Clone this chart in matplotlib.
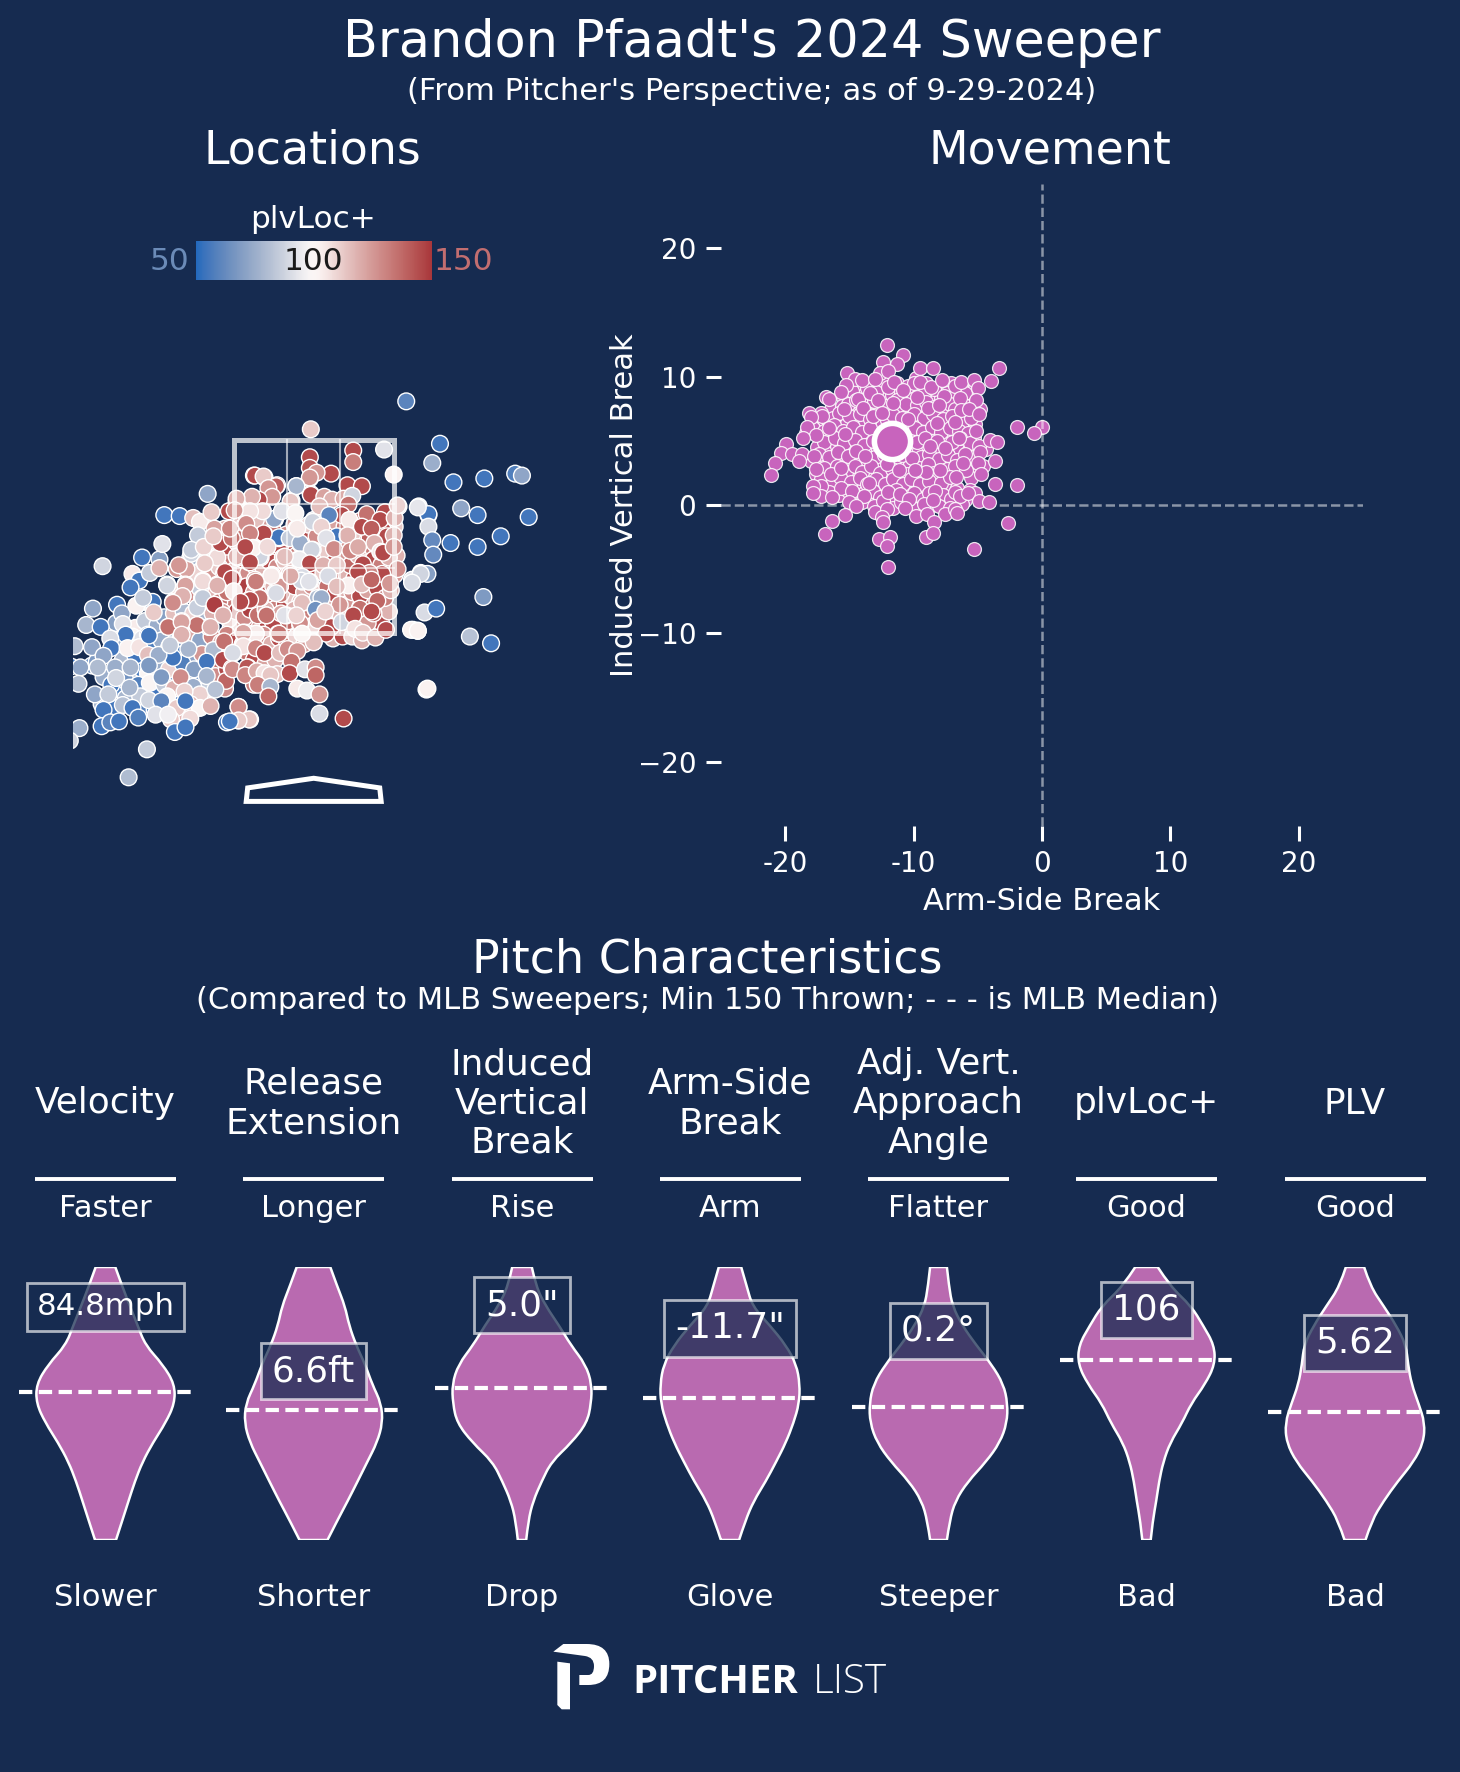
import numpy as np
import matplotlib
matplotlib.use('Agg')
import matplotlib.pyplot as plt
from matplotlib.cm import ScalarMappable
from matplotlib.colors import Normalize, to_rgba
from matplotlib.path import Path
from matplotlib.patches import PathPatch, Polygon, Rectangle
import seaborn as sns

# Locations, plate_x / plate_z in feet, plvLoc+ per pitch. Drawn in this order.
under_x = [-.92,-.84,-.76,-.68,-.62,-.54,-.48,-.40,-.30,-.24,
           -.94,-.86,-.78,-.72,-.64,-.56,-.50,-.44,-.36,-.30,
           -.92,-.84,-.76,-.68,-.60,-.52,-.46,-.38,-.30,-.24,
           -.86,-.76,-.66,-.56,-.48,-.38,-.30,-.22,-.14,-.06,
           .00,.08,.14,.20,.28,.36,.44,.52,.58,.66,
           -.14,-.06,.02,.10,.18,.26,.34,.42,.50,.60,
           -.14,-.04,.04,.12,.20,.30,.38,.48,.56,.70,
           .20,.30,.40,.50,.60,.70,.78,.84,.86,.84]
under_y = [2.58,2.50,2.62,2.56,2.30,2.34,2.62,2.32,2.42,2.34,
           2.12,2.06,2.08,2.02,2.04,2.06,2.02,2.08,2.06,2.00,
           1.84,1.80,1.84,1.86,1.80,1.84,1.80,1.84,1.80,1.88,
           1.56,1.58,1.60,1.56,1.60,1.54,1.54,1.56,1.50,1.44,
           2.42,2.40,2.44,2.52,2.44,2.42,2.44,2.38,2.34,2.30,
           2.12,2.12,2.14,2.12,2.14,2.14,2.10,2.06,2.12,2.14,
           1.82,1.82,1.78,1.80,1.78,1.84,1.78,1.76,1.78,1.76,
           1.44,1.46,1.46,1.42,1.50,1.60,1.72,2.10,2.30,2.60]
under_plus = [118,132,145,118,145,135,125,145,118,145,
              128,145,112,145,128,145,135,118,145,128,
              118,132,145,145,128,145,118,132,145,112,
              145,118,140,125,145,118,145,128,118,132,
              118,145,128,112,145,125,145,118,132,145,
              132,118,145,112,128,145,118,145,128,145,
              118,145,112,132,118,145,125,145,132,145,
              118,145,110,118,125,145,118,125,118,112]

blue_x = [-2.30,-2.18,-2.02,-1.90,-1.78,-1.66,-1.52,-1.44,-1.32,-1.20,
          -2.00,-1.88,-1.74,-1.62,-1.46,-1.36,-1.24,-1.10,-1.00,-.92,
          -2.20,-2.08,-1.78,-1.56,-1.40,-1.72,-1.56,-1.44,-1.26,-1.08,
          -1.78,-1.50,-1.40,-1.28,-1.12,-1.40,-1.22,-1.08,-.98,-1.10]
blue_y = [1.16,1.04,1.06,1.06,1.12,1.02,1.02,1.06,1.10,1.02,
          .90,.88,.90,.88,.84,.82,.84,.92,.98,.92,
          .76,.72,.72,.74,.64,1.34,1.28,1.32,1.28,1.30,
          1.50,1.50,1.58,1.56,1.52,1.80,1.86,1.90,1.82,1.72]
blue_plus = [60,75,55,82,55,60,72,55,85,60,
             58,70,62,55,75,60,72,85,110,128,
             78,55,60,72,118,55,62,58,72,85,
             75,70,85,72,120,78,130,118,135,112]

core_x = [-.95,-.88,-.80,-.72,-.65,-.58,-.50,-.42,-.35,-.28,
          -.90,-.82,-.74,-.68,-.60,-.52,-.46,-.38,-.32,-.26,
          -.98,-.90,-.84,-.78,-.70,-.62,-.55,-.48,-.42,-.34,
          -.95,-.88,-.80,-.72,-.66,-.58,-.50,-.42,-.34,-.26,
          -.90,-.80,-.70,-.62,-.52,-.44,-.36,-.28,-.18,-.10,
          -.20,-.12,-.05,.03,.10,.16,.24,.32,.40,.48,
          -.18,-.10,-.02,.06,.14,.22,.30,.38,.46,.54,
          -.20,-.10,-.02,.06,.14,.22,.30,.40,.48,.56,
          -.20,-.08,.00,.10,.18,.28,.36,.46,.56,.62,
          .58,.66,.72,.78,.62,.70,.78,.66,.74,.80]
core_y = [2.45,2.35,2.44,2.50,2.42,2.50,2.44,2.56,2.40,2.52,
          2.22,2.15,2.26,2.12,2.18,2.14,2.24,2.18,2.28,2.18,
          2.00,1.92,2.00,1.93,1.98,1.92,1.98,1.90,1.98,1.90,
          1.72,1.64,1.72,1.66,1.74,1.68,1.74,1.60,1.70,1.62,
          1.48,1.42,1.50,1.40,1.48,1.38,1.44,1.36,1.46,1.38,
          2.62,2.54,2.62,2.50,2.68,2.58,2.64,2.60,2.52,2.66,
          2.30,2.20,2.30,2.24,2.34,2.24,2.30,2.20,2.30,2.22,
          1.98,1.92,1.98,1.90,1.98,1.90,1.96,1.92,1.88,1.94,
          1.74,1.66,1.58,1.62,1.56,1.68,1.60,1.64,1.60,1.70,
          2.48,2.40,2.56,2.44,2.26,2.20,2.28,1.96,1.86,1.94]
core_plus = [125,145,118,132,145,122,112,135,145,128,
             132,118,145,128,140,118,145,128,112,145,
             118,135,145,128,148,122,140,145,118,132,
             125,108,145,128,148,135,118,145,122,138,
             130,145,122,145,128,118,145,132,110,125,
             122,145,112,128,118,145,122,132,112,145,
             132,145,118,128,112,145,125,138,118,145,
             145,118,128,110,135,145,118,128,145,122,
             118,132,108,125,145,118,135,145,125,138,
             140,125,145,118,145,132,118,145,132,118]

low_x = [-2.05,-1.85,-1.75,-1.62,-1.55,-1.45,-1.35,-1.25,-1.15,-1.05,
         -2.00,-1.88,-1.78,-1.68,-1.58,-1.42,-1.30,-1.18,-1.06,-.96,
         -2.25,-1.98,-1.85,-1.72,-1.62,-1.50,-1.36,-1.24,-1.16,-1.02,
         -2.10,-1.95,-1.82,-1.70,-1.55,-1.45,-1.25,-1.18,-1.02,-.90,
         -1.95,-1.80,-1.65,-1.52,-1.42,-1.28,-1.18,-1.48,-1.68,-1.40,
         -1.25,-1.18,-1.08,-.98,-1.28,-1.12,-.70,-.62,-.50,-.40]
low_y = [1.60,1.55,1.62,1.58,1.66,1.70,1.72,1.70,1.62,1.70,
         1.42,1.46,1.44,1.38,1.42,1.44,1.46,1.42,1.46,1.40,
         1.20,1.22,1.26,1.08,1.16,1.12,1.18,1.12,1.28,1.18,
         .96,1.00,.96,.98,.96,.92,.94,.86,1.05,1.12,
         .82,.84,.70,.84,.72,.76,.72,.60,1.78,1.92,
         2.12,1.96,2.10,2.18,2.28,2.28,1.30,1.22,1.18,1.22]
low_plus = [70,104,85,75,70,115,80,110,78,118,
            78,100,92,58,75,65,120,72,130,118,
            68,80,55,100,75,110,58,70,125,135,
            55,65,58,100,85,118,75,110,128,145,
            78,85,55,100,112,118,100,112,100,108,
            110,85,125,112,78,85,135,145,122,118]

left_x = [-2.19,-1.78,-1.60,-1.88,-1.81,-1.90,-1.70,-1.60,-1.42,-1.32,
          -1.27,-1.13,-1.07,-1.52,-1.33,-1.15,-1.00,-.93,-.84,-.67,
          -.61,-.79,-2.29,-2.36,-2.21,-2.04,-1.99,-1.98,-1.84,-1.67,
          -1.66,-1.77,-1.46,-1.36,-1.16,-1.03,-.94,-1.21,-1.51,-1.37,
          -1.21,-1.09,-1.38,-1.72,-1.95,-2.11,-2.48,-2.30,-2.10,-2.18,
          -1.93,-1.81,-1.72,-1.50,-1.30,-1.04,-.93,-.74,-.73,-1.46,
          -1.61,-1.71,-1.11,-.94,-.83,-2.52,-2.42,-2.24,-2.06,-1.90,
          -1.58,-1.38,-1.11,-.91,-.85,-.68,-.62,-2.44,-2.05,-2.27,
          -2.13,-1.91,-1.02,-1.71,-1.34,-1.33,-1.58,-1.98,-1.88,-2.18,
          -1.07,-.78,-1.82,-1.64,-1.51,-1.28,-2.43,-2.20,-2.11,-2.02,
          -1.44,-1.33,-.90,-.78,-.66,-1.73,-2.53,-1.92]
left_y = [2.19,2.28,2.26,2.11,2.04,1.97,2.12,2.17,2.16,2.16,
          2.32,2.22,2.29,2.00,2.00,2.04,2.00,2.12,2.06,2.23,
          2.03,2.29,1.75,1.58,1.56,1.79,1.70,1.59,1.78,1.82,
          1.71,1.86,1.82,1.88,1.86,1.79,1.68,1.76,1.56,1.62,
          1.58,1.56,1.48,1.48,1.48,1.44,1.36,1.35,1.34,1.26,
          1.34,1.35,1.27,1.35,1.33,1.32,1.41,1.37,1.50,1.24,
          1.27,1.16,1.20,1.22,1.29,1.15,1.14,1.14,1.14,1.14,
          1.04,1.04,1.05,1.00,1.13,1.14,.96,.97,1.03,.86,
          .86,.93,.91,.80,.89,.79,.79,.75,.72,.70,
          .74,.73,.62,.65,.65,.61,.51,.53,.57,.58,
          .47,.52,.57,.59,.60,.29,.38,.00]
left_plus = [88,55,70,104,55,55,85,118,125,122,
             88,110,106,85,120,104,112,145,148,148,
             130,128,72,78,55,55,72,92,102,55,
             112,85,122,118,88,145,118,86,135,122,
             135,118,120,55,55,90,80,72,55,72,
             102,106,115,85,78,80,135,104,105,55,
             75,68,55,145,85,55,72,80,75,78,
             68,128,78,138,130,142,132,80,88,72,
             85,78,82,88,110,55,60,82,55,55,
             118,128,58,92,96,108,75,55,60,55,
             55,55,55,112,113,85,88,80]

mid_x = [-1.10,-1.55,-1.39,-1.25,-1.18,-1.06,-.88,-.80,-.62,-.51,
         -.38,-.44,-.64,-.57,-.18,-.04,-.03,-.23,-.40,-.53,
         -.66,-.71,-.60,-1.03,-1.20,-.51,-.36,-.25,-.14,-.01,
         -.18,.00,-1.57,-1.27,-1.14,-1.00,-1.13,-1.40,-.55,-.63,
         -.49,-.16,-.30,-.04,-.92,-.79,-.97,-.85,-.87,-1.04,
         -.44,-.25,-.12,-.04,-.85,-.60,-.35,-1.15,-1.00,-1.33,
         -1.52,-.83,-1.36,-1.46,-1.15,-.55,-.67,-.76,-.40,-.12,
         .04,-1.03,-.94,-.49,-.28,.02,-1.21,-1.51,-1.37,-1.37,
         -1.07,-.14,-.37,-.60,-.73,.00,-1.49,-1.71]
mid_y = [2.94,2.72,2.71,2.69,2.65,2.75,2.76,2.86,3.13,3.11,
         3.03,2.92,2.89,2.87,3.02,3.10,2.94,2.87,2.68,2.77,
         2.77,2.63,2.67,2.58,2.51,2.52,2.48,2.48,2.42,2.36,
         2.58,2.67,2.42,2.36,2.39,2.28,2.22,2.20,2.28,2.39,
         2.38,2.26,2.24,2.22,2.13,2.28,2.43,2.48,2.58,2.50,
         2.09,2.09,2.03,2.03,2.06,2.02,1.98,2.03,1.99,1.99,
         1.99,1.93,1.88,1.81,1.86,1.86,1.84,1.81,1.92,1.81,
         1.86,1.79,1.68,1.68,1.68,1.74,1.58,1.56,1.61,1.48,
         1.56,1.58,1.49,1.49,1.39,1.41,1.37,1.47]
mid_plus = [72,55,55,115,104,112,145,120,145,112,
            145,128,118,145,78,120,145,112,72,106,
            102,128,115,122,85,148,55,85,75,88,
            102,90,92,85,110,108,112,125,88,104,
            108,95,115,145,145,130,145,135,130,112,
            106,118,92,90,145,135,128,108,118,122,
            88,104,118,128,85,140,145,145,85,115,
            80,148,118,132,92,68,135,135,122,118,
            118,132,145,100,104,118,85,55]

top_x = [.96,-.03,.73,.41,.41,-.04,.83,-.61,-.52,.18,
         -.04,.03,-.04,-.18,.35,.50,-.39,-.47,-.43,-.03,
         .11,.19,.06,.31,.40,.36,-.24,-.57,-.64,-.80,
         .88,1.09,1.19,.74,.55,.69,.84,.29,.16,.37,
         -.01,.08,-.41,-.53,-.66,-.33,-.19,-.70,-.82,.50,
         .60,.24,.13,.35,-.36,-.25,-.14,-.02,.21,-.52,
         -.66,-.17,.76,.83,.63,.38,.69,.72,.83,.46,
         -.56,-.63,-.48,-.80,-.71,-.15,-.04,-.30,.10,.51,
         .87,-.66,.24,-.25,-.43,-.61,.15,-.12,.71,.58,
         .46,1.02,1.11]
top_y = [3.90,3.61,3.40,3.39,3.27,3.32,3.14,3.13,3.12,3.15,
         3.21,3.16,3.11,3.02,3.03,3.02,3.02,3.00,2.91,2.93,
         2.91,2.88,2.81,2.89,2.92,2.83,2.86,2.88,2.91,2.89,
         2.81,2.81,2.72,2.75,2.73,2.67,2.69,2.72,2.72,2.67,
         2.65,2.60,2.68,2.76,2.76,2.76,2.74,2.63,2.77,2.60,
         2.58,2.50,2.48,2.51,2.49,2.48,2.43,2.36,2.37,2.53,
         2.53,2.58,2.50,2.51,2.43,2.35,2.34,2.33,2.39,2.39,
         2.29,2.38,2.39,2.29,2.39,2.26,2.22,2.29,2.20,2.21,
         2.16,2.23,2.20,2.11,2.10,2.05,2.09,2.08,2.11,2.12,
         2.13,2.05,2.12]
top_plus = [60,112,92,145,132,145,102,145,112,145,
            142,125,125,78,145,145,140,125,125,145,
            122,118,115,120,88,135,113,145,118,118,
            112,93,55,145,135,145,118,145,60,104,
            88,110,72,108,106,92,100,128,125,145,
            140,55,92,118,55,85,75,88,128,145,
            130,104,145,118,118,130,104,145,125,120,
            88,102,108,118,145,95,145,115,118,145,
            128,145,112,118,106,122,90,90,145,130,
            145,92,90]

bottom_x = [-.13,-.05,-.35,-.44,-.60,-.24,.36,.24,.50,.60,
            .79,-.39,-.56,-.66,-.76,.08,-.12,.02,.27,.48,
            .66,.60,-.49,-.30,-.14,.04,-.18,.12,.29,.41,
            .13,.43,.51,.64,.75,.00,-.12,-.60,-.73,-.36,
            1.03,1.08,-.73,-.60,-.51,-.35,-.27,-.17,-.84,-.23,
            -.84,-.69,-.71,-.59,-.51,-.38,-.45,-.25,-.09,.02,
            .02,-.58,-.45,-.47,-.17,-.07,.06,.06,.31,1.17,
            -.78,-.67,-.78,-.87]
bottom_y = [2.04,2.03,1.98,2.09,2.03,2.09,1.99,1.98,2.00,2.05,
            2.01,1.91,1.86,1.84,1.82,1.86,1.81,1.74,1.79,1.75,
            1.83,1.72,1.68,1.68,1.60,1.63,1.68,1.72,1.61,1.68,
            1.49,1.54,1.50,1.45,1.53,1.40,1.49,1.49,1.50,1.49,
            1.53,1.52,1.36,1.34,1.29,1.29,1.33,1.31,1.29,1.20,
            1.12,1.14,1.06,1.10,1.08,1.07,1.06,1.08,1.12,1.14,
            1.06,.96,.94,.84,.92,.90,.86,.66,.61,.91,
            .73,.60,.59,.58]
bottom_plus = [88,92,125,104,132,120,102,115,115,138,
               125,90,135,145,145,75,115,65,125,135,
               138,145,135,92,128,122,110,110,88,145,
               145,106,112,118,145,115,100,104,122,135,
               92,102,106,130,145,115,128,125,90,135,
               128,142,130,120,106,115,113,145,92,128,
               138,132,78,138,104,95,125,90,145,102,
               128,113,112,55]

right_x = [1.31,1.23,1.45,1.77,2.09,2.16,1.53,1.70,2.23,1.19,
           1.08,1.19,1.23,1.24,1.42,1.70,1.94,1.18,1.11,1.02,
           1.76,1.15,1.27,1.01,1.08,1.62,1.84,1.18,.87]
right_y = [3.46,3.26,3.06,3.10,3.15,3.13,2.79,2.72,2.70,2.73,
           2.80,2.60,2.46,2.31,2.43,2.39,2.50,2.11,2.11,2.02,
           1.87,1.71,1.75,1.53,1.52,1.46,1.39,.92,2.82]
right_plus = [55,75,55,55,58,72,72,55,55,55,
              93,90,62,62,55,55,55,70,88,90,
              68,90,55,102,102,82,55,102,110]

# Home plate and strike zone outline, feet
plate_x = [-.70, .70, .685, 0, -.685]
plate_y = [-.25, -.25, -.11, -.01, -.11]
zone_x = [-.83, .83]
zone_y = [1.5, 3.5]
zone_inner_x = [-.277, .277]
zone_inner_y = [2.167, 2.833]

# Movement, inches
cluster_x = [-13.9,-13.2,-12.5,-11.3,-9.8,-9.0,-7.9,-7.1,-6.2,-5.4,
             -15.5,-14.9,-14.0,-12.6,-11.7,-11.0,-10.2,-8.8,-7.9,-7.0,-6.0,-5.4,
             -16.4,-15.6,-14.8,-14.1,-13.3,-12.7,-11.8,-11.0,-10.3,-9.5,-8.8,-7.4,-6.6,-5.9,-5.2,
             -17.7,-17.0,-16.6,-15.9,-15.2,-14.5,-13.8,-12.8,-12.1,-11.3,-10.6,-9.7,-9.0,-8.3,-7.5,-6.9,-5.9,-5.2,
             -18.4,-17.4,-16.7,-16.0,-15.2,-14.4,-13.6,-12.9,-10.1,-9.4,-8.8,-8.1,-7.5,-6.9,-6.1,-5.3,
             -17.5,-16.7,-16.0,-15.0,-14.3,-13.5,-12.8,-10.3,-9.6,-8.9,-8.3,-7.1,-6.4,-5.7,-5.1,-4.4,
             -18.0,-16.9,-16.2,-15.5,-14.9,-14.2,-13.6,-12.8,-11.9,-11.1,-10.3,-9.9,-8.5,-7.7,-7.0,-6.2,-5.5,-4.6,
             -17.6,-16.6,-15.8,-14.6,-13.0,-12.1,-11.2,-10.0,-9.1,-7.9,-6.9,-5.5,
             -17.5,-16.2,-15.4,-14.6,-13.8,-12.9,-12.0,-11.2,-10.4,-9.7,-9.0,-7.4,-6.3,-5.6,
             -13.6,-12.0,-10.6,-9.6,-8.6,-7.7,-6.9]
cluster_y = [9.3,9.5,9.6,9.5,9.9,9.5,9.3,9.5,9.1,8.9,
             8.4,8.6,8.5,8.5,8.6,8.4,8.5,8.5,8.3,8.3,8.1,7.9,
             7.5,7.7,7.5,7.7,7.4,7.7,7.4,7.5,7.5,7.4,7.3,7.3,7.1,7.2,7.2,
             6.6,6.6,6.4,6.5,6.4,6.5,6.4,6.5,6.6,6.6,6.4,6.5,6.4,6.6,6.3,6.3,6.2,6.3,
             5.6,5.4,5.5,5.6,5.4,5.5,5.4,5.5,5.5,5.4,5.6,5.5,5.3,5.5,5.5,5.3,
             4.5,4.4,4.6,4.4,4.5,4.3,4.4,4.4,4.3,4.6,4.4,4.4,4.4,4.3,4.2,4.4,
             3.4,3.4,3.4,3.3,3.4,3.4,3.3,3.2,3.4,3.3,3.2,3.5,3.5,3.3,3.4,3.0,3.0,3.0,
             2.4,2.4,2.5,2.4,2.5,2.3,2.2,2.3,2.3,2.3,2.5,2.1,
             1.2,1.4,1.5,1.3,1.0,1.4,1.3,.7,1.3,1.2,1.3,1.4,.9,1.2,
             .4,.3,.0,-.1,.0,.3,-.1]
move_x = [-14.8,-13.6,-12.9,-12.0,-11.0,-10.4,-9.1,-8.4,-7.4,-6.9,-6.0,
          -15.1,-14.5,-13.8,-13.1,-12.2,-11.3,-10.6,-9.7,-9.0,-8.4,-7.2,-6.8,-5.9,-4.8,
          -17.2,-16.3,-15.8,-15.0,-14.2,-13.4,-11.6,-10.9,-10.0,-9.2,-8.5,-7.7,-7.0,-6.2,-5.5,
          -17.8,-17.0,-16.2,-15.5,-14.7,-14.0,-13.4,-9.9,-9.3,-8.6,-7.9,-7.2,-6.5,-5.8,
          -17.0,-16.1,-15.4,-14.6,-13.9,-13.2,-9.7,-9.1,-8.2,-7.0,-6.4,-5.6,-4.9,
          -17.4,-16.6,-15.9,-15.1,-14.5,-13.0,-12.3,-11.5,-10.9,-9.4,-8.8,-8.0,-7.3,-6.6,-5.3,
          -17.0,-16.0,-15.3,-14.6,-14.0,-13.3,-12.6,-11.7,-10.5,-9.6,-8.9,-8.4,-7.4,-6.8,-5.9,
          -17.2,-16.3,-15.7,-14.9,-14.2,-13.6,-12.9,-12.2,-11.6,-10.8,-10.2,-9.5,-8.8,-7.9,-7.2,-6.6,
          -16.6,-15.8,-15.1,-14.2,-13.2,-12.6,-11.4,-10.7,-10.0,-9.3,-8.8,-7.7,-7.1,-6.8,-6.0,-5.2,
          -14.0,-13.1,-12.4,-11.6,-11.0,-9.9,-9.2,-8.0,-7.2,-6.2,
          -12.11,-10.84,-12.37,-11.28,-9.49,-8.48,-3.35,-3.99,-15.15,-14.53,
          -14.03,-12.58,-13.02,-11.98,-11.52,-9.99,-9.52,-8.61,-7.78,-6.74,
          -6.33,-5.29,-4.98,-15.23,-15.67,-16.86,-16.58,-14.32,-13.41,-12.76,
          -11.60,-10.82,-9.73,-7.65,-6.41,-5.16,-8.85,-8.04,-6.28,-5.68,
          -4.90,-18.13,-17.10,-15.43,-13.93,-13.20,-12.50,-10.43,-8.17,-6.80,
          -18.00,-18.29,-16.58,-15.38,-17.61,-18.60,-5.16,-6.46,-4.07,-3.50,
          -1.97,.03,-.65,-19.90,-20.29,-19.46,-18.68,-18.91,-20.80,-21.14,
          -17.77,-17.64,-16.47,-15.67,-13.77,-8.69,-7.57,-5.97,-4.85,-3.68,
          -4.98,-6.15,-4.72,-6.72,-7.96,-9.05,-10.12,-12.11,-11.13,-9.91,
          -3.63,-1.97,-13.49,-15.67,-17.22,-17.82,-17.22,-17.87,-16.32,-14.76,
          -13.88,-11.98,-11.08,-10.35,-8.30,-8.48,-6.41,-5.76,-4.93,-4.12,
          -15.05,-14.50,-13.02,-12.11,-10.64,-9.78,-8.92,-7.52,-6.74,-6.59,
          -15.36,-16.32,-16.91,-12.45,-12.37,-8.40,-9.00,-8.48,-12.71,-11.87,
          -12.11,-2.62,-5.27,-11.99]
move_y = [8.9,9.1,8.8,9.2,8.8,9.3,8.8,9.0,8.7,8.4,8.7,
          7.9,8.2,7.8,8.1,7.7,8.2,7.9,7.8,8.0,7.6,7.9,7.5,7.7,7.5,
          7.2,6.8,7.2,6.9,7.1,6.7,7.0,6.8,7.1,6.8,7.1,6.7,6.9,6.5,6.8,
          6.0,5.8,6.2,5.8,6.1,5.7,6.0,6.0,5.7,6.1,5.7,6.0,5.8,5.6,
          4.9,5.2,4.8,5.1,4.7,5.0,4.9,5.2,5.0,4.9,5.2,4.8,4.6,
          4.0,3.7,4.1,3.8,4.2,3.7,3.9,3.5,3.9,3.7,4.0,3.6,3.9,3.5,3.7,
          2.9,3.0,2.6,3.0,2.6,3.0,2.5,2.8,2.4,2.9,3.2,2.5,2.8,3.0,2.7,
          2.0,1.9,2.2,1.8,2.1,1.6,2.0,1.6,2.0,1.6,2.0,1.6,1.9,1.7,2.2,1.3,
          1.0,.8,1.1,.6,1.1,.6,1.2,.4,.9,.5,.9,.8,.5,1.0,.4,.9,
          .2,-.1,.3,-.2,.2,-.3,.1,-.1,-.2,.1,
          12.43,11.72,11.10,11.00,10.69,10.66,10.64,9.65,10.25,9.78,
          9.73,10.30,9.81,10.43,9.60,9.47,9.60,9.16,9.73,9.26,
          9.60,9.73,9.13,9.34,8.79,8.43,8.22,8.25,8.69,8.17,
          7.96,8.95,8.38,8.51,8.30,8.17,7.57,7.78,7.39,7.50,
          7.06,7.19,6.95,7.47,7.52,6.93,7.19,6.67,6.41,6.49,
          6.82,6.04,6.02,5.53,5.45,5.19,5.76,5.24,5.06,4.93,
          6.07,6.07,5.63,4.72,4.07,3.97,3.97,3.42,3.29,2.33,
          3.84,2.78,2.41,2.85,3.84,4.62,4.41,3.97,4.15,3.42,
          3.24,3.24,2.41,2.15,2.72,2.54,3.63,3.19,2.72,2.72,
          1.63,1.56,1.69,1.35,1.48,1.50,.73,.91,.65,1.09,
          .70,.99,.83,.47,1.12,.39,.70,.91,.34,.26,
          .21,-.05,-.52,-.34,-.26,-.86,-.73,-.70,-.34,-.65,
          -.80,-1.25,-2.28,-.96,-1.30,-1.30,-2.46,-2.15,-2.67,-2.49,
          -3.19,-1.43,-3.40,-4.80]
move_avg_x = -11.7
move_avg_y = 5.0

# Violins: relative density at 15 evenly read heights, bottom to top
columns = ['Velocity', 'Release\nExtension', 'Induced\nVertical\nBreak', 'Arm-Side\nBreak',
           'Adj. Vert.\nApproach\nAngle', 'plvLoc+', 'PLV']
high_labels = ['Faster', 'Longer', 'Rise', 'Arm', 'Flatter', 'Good', 'Good']
low_labels = ['Slower', 'Shorter', 'Drop', 'Glove', 'Steeper', 'Bad', 'Bad']
value_labels = ['84.8mph', '6.6ft', '5.0"', '-11.7"', '0.2°', '106', '5.62']
value_heights = [.854, .618, .860, .775, .767, .843, .722]
mlb_medians = [.543, .476, .557, .520, .487, .659, .470]
density_levels = [0, .071, .143, .214, .286, .357, .429, .5, .571, .643, .714, .786, .857, .929, 1]
velocity_density = [.15, .24, .33, .42, .53, .68, .86, .99, .99, .82, .57, .46, .35, .24, .14]
extension_density = [.20, .34, .49, .63, .77, .91, .99, .97, .84, .74, .61, .51, .45, .34, .24]
ivb_density = [.06, .09, .16, .28, .42, .71, .93, .99, 1.0, .91, .70, .53, .34, .20, .14]
armside_density = [.13, .22, .34, .51, .66, .80, .91, .99, 1.0, .95, .80, .57, .32, .24, .16]
vaa_density = [.12, .16, .24, .42, .68, .88, .98, .99, .93, .76, .54, .34, .20, .15, .12]
plvloc_density = [.06, .09, .14, .18, .24, .34, .51, .64, .84, .98, .97, .81, .64, .34, .16]
plv_density = [.15, .24, .41, .61, .84, .98, 1.0, .91, .81, .76, .73, .59, .41, .22, .13]
all_density = [velocity_density, extension_density, ivb_density, armside_density,
               vaa_density, plvloc_density, plv_density]
column_centers = [105.5, 313.5, 522, 730, 938.5, 1146.5, 1355]

navy = '#162b50'
pink = '#c864bd'
violin_pink = '#b96ab0'
W, H = 1460, 1772

plt.rcParams['font.family'] = ['DejaVu Sans']
plt.rcParams['text.color'] = 'white'
fig = plt.figure(figsize=(W / 100, H / 100), dpi=100, facecolor=navy)


def px_axes(left, top, right, bottom):
    ax = fig.add_axes([left / W, 1 - bottom / H, (right - left) / W, (bottom - top) / H])
    ax.set_facecolor('none')
    return ax


def px_text(x, y, s, size, **kwargs):
    kwargs.setdefault('va', 'baseline')
    return fig.text(x / W, 1 - y / H, s, fontsize=size, ha='center', **kwargs)


def violin_patch(density, levels):
    # quadratic curve through the read widths, flat at both ends
    verts = [(-density[0], levels[0]), (density[0], levels[0])]
    codes = [Path.MOVETO, Path.LINETO]
    n = len(levels)
    for i in range(1, n - 1):
        end = ((density[i] + density[i + 1]) / 2, (levels[i] + levels[i + 1]) / 2)
        if i == n - 2:
            end = (density[-1], levels[-1])
        verts += [(density[i], levels[i]), end]
        codes += [Path.CURVE3, Path.CURVE3]
    verts.append((-density[-1], levels[-1]))
    codes.append(Path.LINETO)
    for i in range(n - 2, 0, -1):
        end = (-(density[i] + density[i - 1]) / 2, (levels[i] + levels[i - 1]) / 2)
        if i == 1:
            end = (-density[0], levels[0])
        verts += [(-density[i], levels[i]), end]
        codes += [Path.CURVE3, Path.CURVE3]
    return PathPatch(Path(verts, codes), facecolor=violin_pink, edgecolor='white', linewidth=1.8)


# titles
px_text(752, 57, "Brandon Pfaadt's 2024 Sweeper", 36.6)
px_text(752, 100, "(From Pitcher's Perspective; as of 9-29-2024)", 22.1)
px_text(312, 164, 'Locations', 33)
px_text(1050, 164, 'Movement', 33)
px_text(707, 972.7, 'Pitch Characteristics', 33.1)
px_text(707, 1009, '(Compared to MLB Sweepers; Min 150 Thrown; - - - is MLB Median)', 22.05)

# locations
loc_x = np.concatenate([under_x, blue_x, core_x, low_x, left_x, mid_x, top_x, bottom_x, right_x])
loc_y = np.concatenate([under_y, blue_y, core_y, low_y, left_y, mid_y, top_y, bottom_y, right_y])
loc_plus = np.concatenate([under_plus, blue_plus, core_plus, low_plus, left_plus, mid_plus,
                           top_plus, bottom_plus, right_plus])
vlag = sns.color_palette('vlag', as_cmap=True)

ax_loc = px_axes(72.7, 295.3, 554.7, 825.5)
ax_loc.set_xlim(-2.5, 2.5)
ax_loc.set_ylim(-.5, 5)
ax_loc.axis('off')
ax_loc.scatter(loc_x, loc_y, c=loc_plus, cmap=vlag, vmin=50, vmax=150, s=145,
               edgecolors='white', linewidths=1.0, zorder=2)
ax_loc.add_patch(Rectangle((zone_x[0], zone_y[0]), zone_x[1] - zone_x[0], zone_y[1] - zone_y[0],
                           fill=False, edgecolor=(1, 1, 1, .72), linewidth=3.6, zorder=4))
for x in zone_inner_x:
    ax_loc.plot([x, x], zone_y, color=(1, 1, 1, .6), linewidth=1.5, zorder=3)
for y in zone_inner_y:
    ax_loc.plot(zone_x, [y, y], color=(1, 1, 1, .6), linewidth=1.5, zorder=3)
ax_loc.add_patch(Polygon(np.column_stack([plate_x, plate_y]), closed=True, fill=False,
                         edgecolor='white', linewidth=3.6, joinstyle='miter', zorder=4))

# plvLoc+ colour bar
cax = px_axes(196, 240.6, 432, 280)
cbar = fig.colorbar(ScalarMappable(Normalize(50, 150), vlag), cax=cax, orientation='horizontal')
cbar.outline.set_visible(False)
cbar.set_ticks([])
px_text(313, 228.4, 'plvLoc+', 22.4)
px_text(169, 269.6, '50', 22.4, color='#6b8bb8')
px_text(313.7, 269.6, '100', 22.4, color='#1a1a1a')
px_text(463, 269.6, '150', 22.4, color='#c26e70')

# movement
ax_move = px_axes(721, 184, 1363, 826)
ax_move.set_xlim(-25, 25)
ax_move.set_ylim(-25, 25)
for spine in ax_move.spines.values():
    spine.set_visible(False)
ax_move.axhline(0, color=(1, 1, 1, .5), linestyle='--', linewidth=1.8, zorder=1)
ax_move.axvline(0, color=(1, 1, 1, .5), linestyle='--', linewidth=1.8, zorder=3)
ax_move.scatter(cluster_x + move_x, cluster_y + move_y, color=pink, s=100,
                edgecolors=(1, 1, 1, .85), linewidths=.9, zorder=2)
ax_move.scatter([move_avg_x], [move_avg_y], color=pink, s=680, edgecolors='white', linewidths=4, zorder=4)
ax_move.set_xticks([-20, -10, 0, 10, 20], ['-20', '-10', '0', '10', '20'])
ax_move.set_yticks([-20, -10, 0, 10, 20])
ax_move.tick_params(colors='white', labelcolor='white', labelsize=20, length=10.8, width=2.2)
ax_move.tick_params(axis='x', pad=6.5)
ax_move.tick_params(axis='y', pad=7)
ax_move.set_xlabel('Arm-Side Break', color='white', fontsize=22, labelpad=6.5)
ax_move.set_ylabel('Induced Vertical Break', color='white', fontsize=22, labelpad=-1)

# violins
for i, center in enumerate(column_centers):
    px_text(center, 1103.5, columns[i], 25.8, va='center', linespacing=1.2, multialignment='center')
    px_text(center, 1216.7, high_labels[i], 22)
    px_text(center, 1606, low_labels[i], 22)
    fig.add_artist(plt.Line2D([(center - 70.5) / W, (center + 70.5) / W], [1 - 1178.7 / H] * 2,
                              color='white', linewidth=2.8, solid_capstyle='butt'))

    ax = px_axes(center - 87, 1267, center + 87, 1540)
    ax.set_xlim(-1.246, 1.246)
    ax.set_ylim(0, 1)
    ax.axis('off')
    ax.add_patch(violin_patch(all_density[i], density_levels))
    ax.axhline(mlb_medians[i], color='white', linewidth=3, linestyle=(0, (3.2, 1.55)), zorder=3)
    ax.text(0, value_heights[i], value_labels[i], fontsize=22.2 if i == 0 else 25.8,
            ha='center', va='center', color='white', zorder=5,
            bbox=dict(boxstyle='square,pad=0.31', facecolor=to_rgba(navy, .74),
                      edgecolor=(1, 1, 1, .65), linewidth=2))

# logo, drawn in its own pixel box
ax_logo = px_axes(520, 1620, 920, 1730)
ax_logo.set_xlim(0, 1200)
ax_logo.set_ylim(330, 0)
ax_logo.axis('off')
flag = [(100, 95), (130, 72), (200, 72), (268, 72), (268, 132), (268, 195), (205, 195),
        (178, 195), (178, 165), (205, 165), (222, 165), (222, 138), (222, 112), (195, 108), (100, 95)]
flag_codes = [Path.MOVETO, Path.LINETO, Path.LINETO, Path.CURVE3, Path.CURVE3, Path.CURVE3, Path.CURVE3,
              Path.LINETO, Path.LINETO, Path.LINETO, Path.CURVE3, Path.CURVE3, Path.CURVE3, Path.CURVE3, Path.LINETO]
ax_logo.add_patch(PathPatch(Path(flag, flag_codes), facecolor='white', edgecolor='none'))
ax_logo.add_patch(Polygon([(112, 125), (150, 130), (150, 268), (125, 268), (112, 255)],
                          closed=True, facecolor='white', edgecolor='none'))
ax_logo.text(337, 218, 'PITCHER', family='Open Sans', fontweight='bold', fontsize=28.8, color='white', va='baseline')
ax_logo.text(880, 218, 'LIST', family='Open Sans', fontweight='light', fontsize=29, color='white', va='baseline')

fig.savefig('out.png', dpi=100, facecolor=navy)
